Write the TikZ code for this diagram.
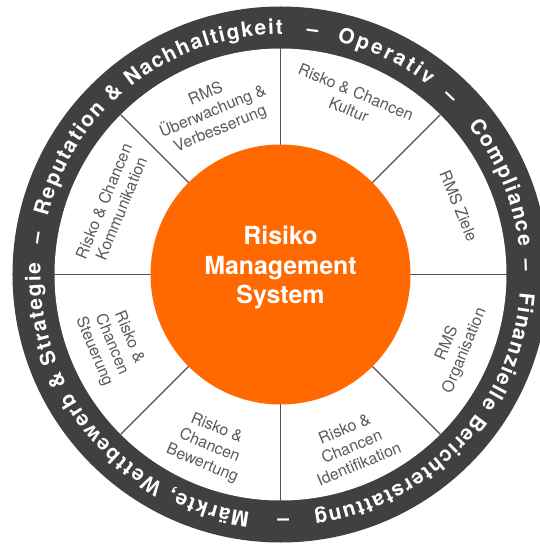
\documentclass[tikz,border=0pt]{standalone}
\usepackage{fontspec}
\setmainfont{TeX Gyre Heros}
\usepackage{tikz}
\usetikzlibrary{decorations.text}
\definecolor{ringgray}{HTML}{404040}
\definecolor{rmsorange}{HTML}{FF6900}
\definecolor{labelgray}{HTML}{5A5A5A}
\newcommand\ringfont{\bfseries\fontsize{21}{23}\selectfont}
\tikzset{every picture/.style={
  line cap=butt                 % Plain ends for the spokes.
  }
}

\begin{document}
\begin{tikzpicture}[
    ringtext/.style={
      decorate,
      decoration={text along path,
        text color=white,
        text align={fit to path},
        text={|\ringfont|#1}}
    },
    ringdash/.style={
      decorate,
      decoration={text along path,
        text color=white,
        text align=center,
        text={|\ringfont|–}}
    },
    spoke/.style={
      draw=labelgray!90!black,
      line width=1.1bp
    },
    seglabel/.style={
      align=center,
      text=labelgray,
      font=\fontsize{16}{19}\selectfont,
      inner sep=0pt
    },
    hub/.style={
      circle,
      fill=rmsorange,
      minimum size=260bp,
      inner sep=0pt
    }]

    \useasboundingbox (-280.5bp,-269.5bp) rectangle (259.5bp,274.5bp);

    % Dark outer ring and the white band inside it.
    \fill[ringgray] (0,0) circle[radius=268bp];
    \fill[white] (0,0) circle[radius=226bp];

    % Spokes between the eight fields.
    \foreach \a in {0,45,...,315}
      \draw[spoke] (\a:128bp) -- (\a:226bp);

    % The hub.
    \node[hub] (hub) at (0,0) {};
    \node[align=center, text=white, inner sep=0pt,
      font=\bfseries\fontsize{25}{30}\selectfont] (rms) at (0,7bp)
      {Risiko\\Management\\System};

    % Fields of the white band.
    \node[seglabel, rotate=22.5] (ueberw) at (112.5:176bp)
      {RMS\\Überwachung \&\\Verbesserung};
    \node[seglabel, rotate=-22.5] (kultur) at (67.5:188bp)
      {Risko \& Chancen\\Kultur};
    \node[seglabel, rotate=-67.5] (ziele) at (21:191bp) {RMS Ziele};
    \node[seglabel, rotate=67.5] (organ) at (-22.5:190bp)
      {RMS\\Organisation};
    \node[seglabel, rotate=22.5] (ident) at (-67.5:186bp)
      {Risko \&\\Chancen\\Identifikation};
    \node[seglabel, rotate=-22.5] (bewert) at (-112.5:186bp)
      {Risko \&\\Chancen\\Bewertung};
    \node[seglabel, rotate=-67.5] (steuer) at (-157.5:183bp)
      {Risko \&\\Chancen\\Steuerung};
    \node[seglabel, rotate=67.5] (kommu) at (157.5:182bp)
      {Risko \& Chancen\\Kommunikation};

    % Text running clockwise round the ring.
    \path[ringtext={Reputation {\&} Nachhaltigkeit}]
      (166:240bp) arc[start angle=166, end angle=89.5, radius=240bp];
    \path[ringtext={Operativ}]
      (76.4:240bp) arc[start angle=76.4, end angle=52, radius=240bp];
    \path[ringtext={Compliance}]
      (38.5:240bp) arc[start angle=38.5, end angle=6.7, radius=240bp];
    \path[ringtext={Finanzielle Berichterstattung}]
      (-4.4:240bp) arc[start angle=-4.4, end angle=-82, radius=240bp];
    \path[ringtext={Märkte, Wettbewerb {\&} Strategie}]
      (-97.3:240bp) arc[start angle=-97.3, end angle=-182.7, radius=240bp];

    % Dashes between the ring texts.
    \foreach \a in {171.4,82.5,46.3,2.2,-89.4}
      \path[ringdash] (\a+4:240bp) arc[start angle=\a+4, end angle=\a-4, radius=240bp];
  \end{tikzpicture}
\end{document}
